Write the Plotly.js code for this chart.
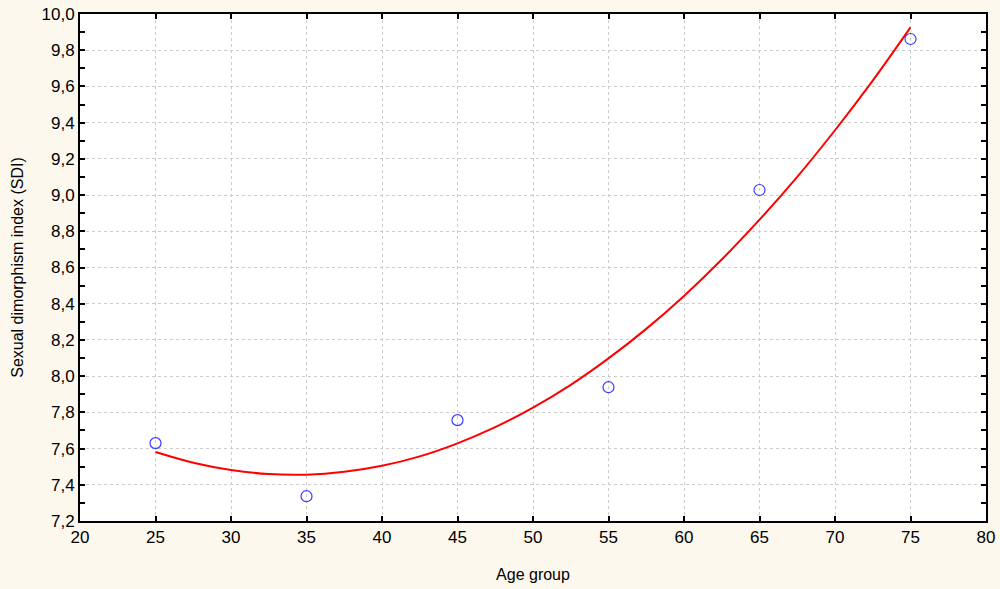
<!DOCTYPE html>
<html>
<head>
<meta charset="utf-8">
<script src="https://cdn.plot.ly/plotly-3.0.1.min.js"></script>
<style>html,body{margin:0;padding:0;background:#fdf8ee;}#chart{width:1000px;height:589px;}</style>
</head>
<body>
<div id="chart"></div>
<script>
var ageGroups = [25, 35, 45, 55, 65, 75];
var sdiValues = [7.63, 7.337, 7.757, 7.939, 9.028, 9.862];
var fitX = [25, 27.5, 30, 32.5, 35, 37.5, 40, 42.5, 45, 47.5, 50, 52.5, 55, 57.5, 60, 62.5, 65, 67.5, 70, 72.5, 75];
var fitY = [7.581, 7.522, 7.482, 7.459, 7.456, 7.472, 7.505, 7.557, 7.629, 7.718, 7.826, 7.952, 8.098, 8.261, 8.443, 8.644, 8.864, 9.101, 9.358, 9.632, 9.926];

var traces = [
  {x: fitX, y: fitY, mode: 'lines', line: {color: '#ff0000', width: 2, shape: 'spline'}, hoverinfo: 'skip'},
  {x: ageGroups, y: sdiValues, mode: 'markers', marker: {symbol: 'circle-open', size: 11, color: '#3a3aff', line: {width: 1.2}}}
];

var layout = {
  width: 1000, height: 589,
  paper_bgcolor: '#fdf8ee', plot_bgcolor: '#ffffff',
  showlegend: false,
  separators: ',.',
  margin: {l: 80, r: 14, t: 14, b: 68},
  font: {family: 'Liberation Sans, Arial, sans-serif', color: '#000', size: 17},
  xaxis: {
    range: [20, 80], dtick: 5, tick0: 20,
    showline: true, linecolor: '#000', linewidth: 2, mirror: 'ticks',
    ticks: 'inside', ticklen: 5, tickwidth: 2, tickcolor: '#000',
    showgrid: true, gridcolor: '#cccccc', griddash: 'dot', gridwidth: 1,
    zeroline: false,
    tickfont: {size: 17},
    title: {text: 'Age group', font: {size: 16}, standoff: 22}
  },
  yaxis: {
    range: [7.2, 10.0], dtick: 0.2, tick0: 7.2, tickformat: '.1f',
    showline: true, linecolor: '#000', linewidth: 2, mirror: 'ticks',
    ticks: 'inside', ticklen: 5, tickwidth: 2, tickcolor: '#000',
    minor: {dtick: 0.1, ticks: 'inside', ticklen: 5, tickwidth: 2, tickcolor: '#000', showgrid: false},
    showgrid: true, gridcolor: '#cccccc', griddash: 'dot', gridwidth: 1,
    zeroline: false,
    tickfont: {size: 17},
    title: {text: 'Sexual dimorphism index (SDI)', font: {size: 16}, standoff: 14}
  }
};

Plotly.newPlot('chart', traces, layout, {displayModeBar: false, staticPlot: true});
</script>
</body>
</html>
